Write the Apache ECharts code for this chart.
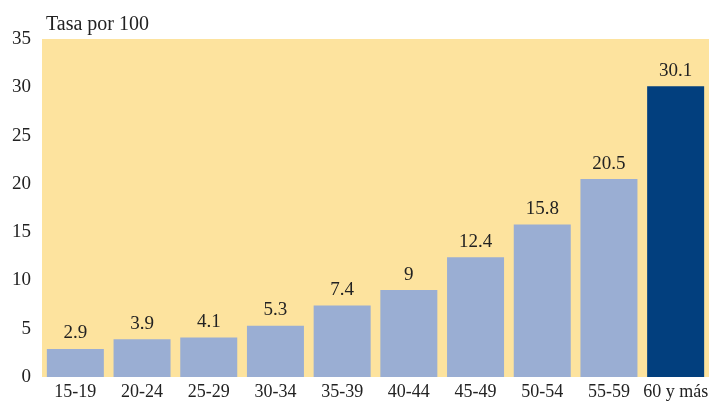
<!DOCTYPE html>
<html>
<head>
<meta charset="utf-8">
<script src="https://cdn.jsdelivr.net/npm/echarts@6/dist/echarts.min.js"></script>
<style>
  html, body { margin: 0; padding: 0; background: #fff; }
  #chart { width: 720px; height: 402px; }
</style>
</head>
<body>
<div id="chart"></div>
<script>
// grupos de edad y tasas
const categories = ['15-19', '20-24', '25-29', '30-34', '35-39', '40-44', '45-49', '50-54', '55-59', '60 y más']
const values = [2.9, 3.9, 4.1, 5.3, 7.4, 9, 12.4, 15.8, 20.5, 30.1]
const yTicks = [0, 5, 10, 15, 20, 25, 30, 35]

const font = '"Liberation Serif", "DejaVu Serif", serif'
const lightBar = '#9aaed3'
const darkBar = '#023f7e'

const chart = echarts.init(document.getElementById('chart'))
chart.setOption({
  animation: false,
  grid: { left: 42, right: 11, top: 39, bottom: 25, backgroundColor: '#fde39e', show: true, borderWidth: 0 },
  title: {
    text: 'Tasa por 100',
    left: 41, top: 10,
    textStyle: { fontFamily: font, fontSize: 20, fontWeight: 'normal', color: '#222' }
  },
  xAxis: {
    type: 'category',
    data: categories,
    axisLine: { show: false },
    axisTick: { show: false },
    axisLabel: { fontFamily: font, fontSize: 18, color: '#222', margin: 6, interval: 0 }
  },
  yAxis: {
    type: 'value',
    min: yTicks[0],
    max: yTicks[yTicks.length - 1],
    interval: 5,
    splitLine: { show: false },
    axisLine: { show: false },
    axisTick: { show: false },
    axisLabel: { fontFamily: font, fontSize: 19, color: '#222', margin: 11 }
  },
  series: [{
    type: 'bar',
    barWidth: 57,
    data: values.map((v, i) => ({
      value: v,
      itemStyle: { color: i === values.length - 1 ? darkBar : lightBar }
    })),
    label: {
      show: true,
      position: 'top',
      distance: 6,
      fontFamily: font,
      fontSize: 19,
      color: '#222'
    }
  }]
})
</script>
</body>
</html>
